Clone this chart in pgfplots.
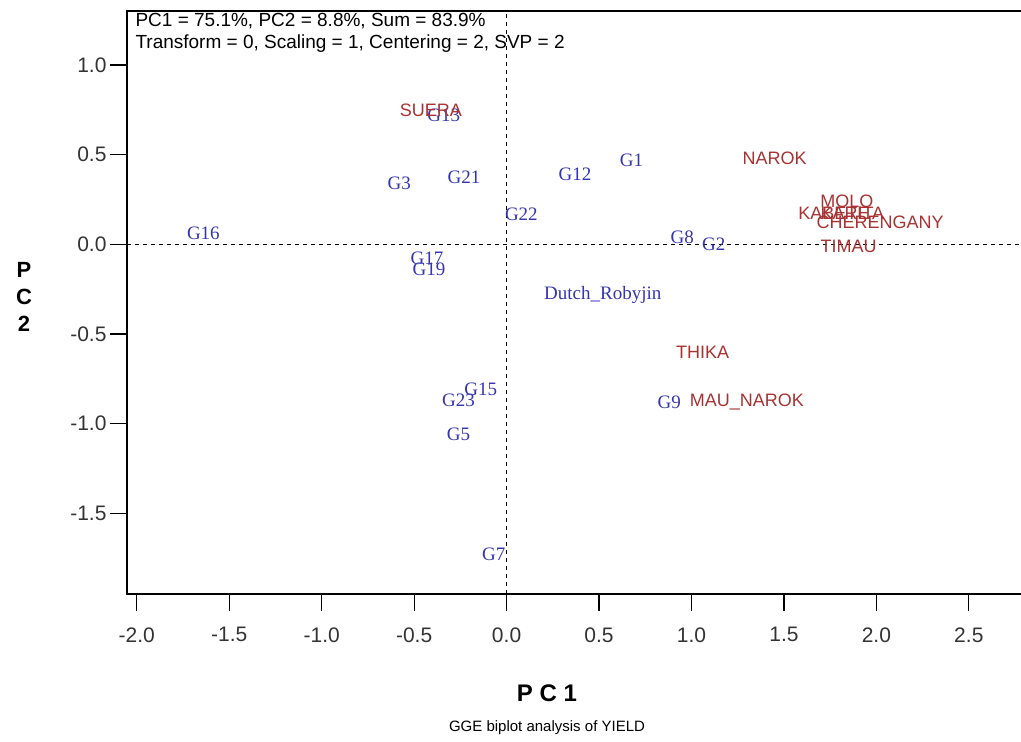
\documentclass[border=0pt]{standalone}
\usepackage{pgfplots}
\pgfplotsset{compat=1.18}
\usepackage{fontspec}
\setmainfont{Liberation Sans}
\newfontfamily\serifg{Liberation Serif}
\definecolor{gblue}{HTML}{3535B0}
\definecolor{ered}{HTML}{A83232}
\definecolor{tickgray}{HTML}{333333}
\begin{document}
\begin{tikzpicture}
\begin{axis}[
  scale only axis, width=896pt, height=583pt,
  at={(0,0)}, anchor=south west,
  xmin=-2.053, xmax=2.793, ymin=-1.949, ymax=1.301,
  axis line style={line width=2.5pt},
  xtick={-2,-1.5,-1,-0.5,0,0.5,1,1.5,2,2.5},
  xticklabels={-2.0,-1.5,-1.0,-0.5,0.0,0.5,1.0,1.5,2.0,2.5},
  ytick={-1.5,-1,-0.5,0,0.5,1},
  yticklabels={-1.5,-1.0,-0.5,0.0,0.5,1.0},
  tick align=outside, xtick pos=bottom, ytick pos=left,
  major tick length=17pt,
  tick style={line width=1.2pt, black},
  ticklabel style={font=\fontsize{21}{25}\selectfont, text=tickgray},
  xticklabel style={yshift=-13pt},
  clip=false,
]
\addplot[black, dashed, line width=0.9pt, dash pattern=on 4pt off 4pt] coordinates {(0,-1.949) (0,1.301)};
\addplot[black, dashed, line width=0.9pt, dash pattern=on 4pt off 4pt] coordinates {(-2.053,0) (2.793,0)};
% genotypes
\addplot[draw=none, nodes near coords, point meta=explicit symbolic,
  every node near coord/.style={anchor=center, text=gblue, font=\serifg\fontsize{19}{21}\selectfont, inner sep=0pt}]
coordinates {
(-0.34,0.72) [G13]
(-0.58,0.34) [G3]
(-0.23,0.375) [G21]
(0.37,0.39) [G12]
(0.675,0.47) [G1]
(0.08,0.17) [G22]
(-1.64,0.06) [G16]
(-0.43,-0.075) [G17]
(-0.42,-0.14) [G19]
(0.52,-0.28) [Dutch\_Robyjin]
(0.95,0.04) [G8]
(1.12,0.0) [G2]
(0.88,-0.88) [G9]
(-0.14,-0.81) [G15]
(-0.26,-0.87) [G23]
(-0.26,-1.06) [G5]
(-0.07,-1.73) [G7]
};
% environments
\addplot[draw=none, nodes near coords, point meta=explicit symbolic,
  every node near coord/.style={anchor=center, text=ered, font=\fontsize{18}{20}\selectfont, inner sep=0pt}]
coordinates {
(-0.41,0.75) [SUERA]
(1.45,0.48) [NAROK]
(1.84,0.24) [MOLO]
(1.77,0.175) [KABETE]
(1.87,0.175) [KARITA]
(2.02,0.125) [CHERENGANY]
(1.85,-0.01) [TIMAU]
(1.06,-0.60) [THIKA]
(1.30,-0.88) [MAU\_NAROK]
};
\end{axis}
\node[anchor=west, font=\fontsize{19}{22}\selectfont] at (5pt,573pt) {PC1 = 75.1\%, PC2 = 8.8\%, Sum = 83.9\%};
\node[anchor=west, font=\fontsize{19}{22}\selectfont] at (5pt,550pt) {Transform = 0, Scaling = 1, Centering = 2, SVP = 2};
\node[font=\bfseries\fontsize{24}{28}\selectfont] at (420pt,-99pt) {P C 1};
\node[font=\fontsize{15}{18}\selectfont] at (420pt,-134pt) {GGE biplot analysis of YIELD};
\node[font=\bfseries\fontsize{22}{26}\selectfont] at (-103pt,324pt) {P};
\node[font=\bfseries\fontsize{22}{26}\selectfont] at (-103pt,297pt) {C};
\node[font=\bfseries\fontsize{22}{26}\selectfont] at (-103pt,270pt) {2};
\pgfresetboundingbox
\path (-127pt,-148pt) rectangle (894pt,594pt);
\end{tikzpicture}
\end{document}
